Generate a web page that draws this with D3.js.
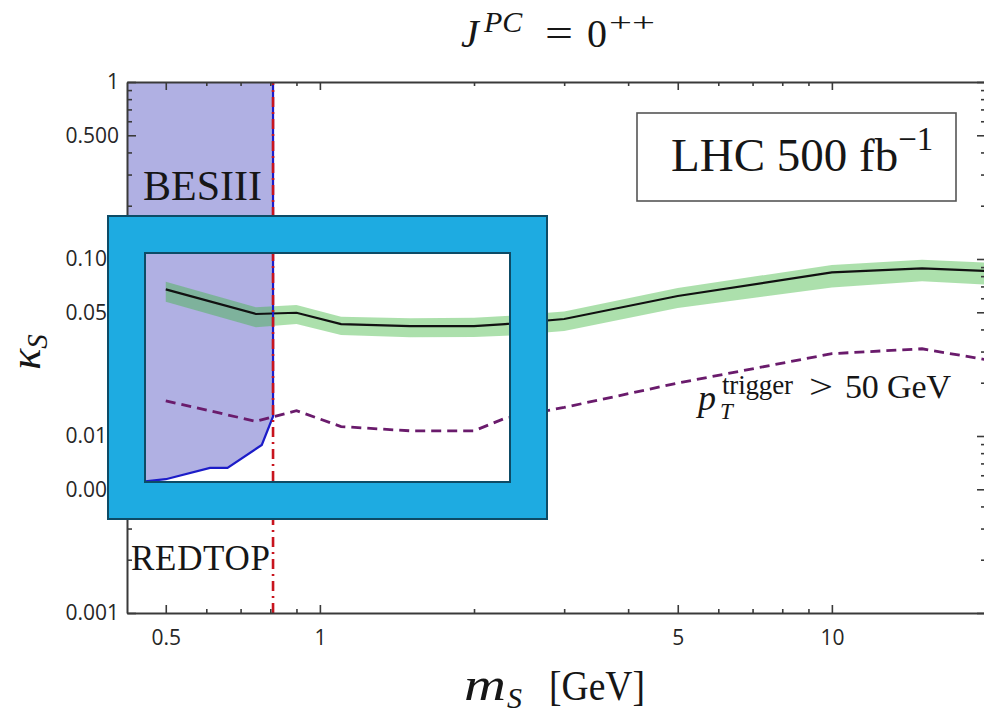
<!DOCTYPE html>
<html>
<head>
<meta charset="utf-8">
<title>kappa_S reach, J^PC = 0++</title>
<script src="https://d3js.org/d3.v7.min.js"></script>
<style>
  body { margin: 0; background: #fff; }
  svg { display: block; }
  .axis path, .axis line { stroke: #3a3a3a; }
  .axis path { stroke-width: 2px; }
  .axis line { stroke-width: 1.6px; }
  .axis text { font-family: "Open Sans", sans-serif; font-size: 21px; fill: #262626; }
  .serif { font-family: "Liberation Serif", "DejaVu Serif", serif; fill: #161616; }
  .it { font-style: italic; }
</style>
</head>
<body>
<svg id="plot" width="984" height="715"></svg>
<script>
// LHC 500 fb^-1 projection, scalar mass points (GeV)
const masses       = [0.5, 0.75, 0.9, 1.1, 1.5, 2, 2.3, 3, 5, 10, 15, 20];
const kappaCentral = [0.0674, 0.0489, 0.0497, 0.0429, 0.0418, 0.0418, 0.0429, 0.0458, 0.0618, 0.0840, 0.0885, 0.0855];
const kappaHigh    = [0.0744, 0.0533, 0.0550, 0.0472, 0.0462, 0.0466, 0.0476, 0.0505, 0.0686, 0.0925, 0.0990, 0.0954];
const kappaLow     = [0.0574, 0.0411, 0.0429, 0.0372, 0.0361, 0.0362, 0.0368, 0.0392, 0.0529, 0.0690, 0.0748, 0.0716];
// pT(trigger) > 50 GeV curve
const kappaTrigger = [0.0158, 0.0121, 0.0139, 0.0113, 0.0107, 0.0107, 0.0126, 0.0145, 0.0199, 0.0292, 0.0311, 0.0270];

// BESIII excluded region, lower edge
const besMass  = [0.42, 0.5, 0.61, 0.66, 0.77, 0.81];
const besKappa = [0.0054, 0.0057, 0.0066, 0.0066, 0.0089, 0.0129];
const redtopMass = 0.81;

// ticks
const xMajor = [0.5, 1, 5, 10];
const xMajorLabels = ["0.5", "1", "5", "10"];
const xMinor = [0.6, 0.7, 0.8, 0.9, 2, 3, 4, 6, 7, 8, 9, 20];
const yMajor = [0.001, 0.005, 0.01, 0.05, 0.1, 0.5, 1];
const yMajorLabels = ["0.001", "0.005", "0.010", "0.050", "0.100", "0.500", "1"];
const yMinor = [0.002, 0.003, 0.004, 0.006, 0.007, 0.008, 0.009,
                0.02, 0.03, 0.04, 0.06, 0.07, 0.08, 0.09,
                0.2, 0.3, 0.4, 0.6, 0.7, 0.8, 0.9];

let svg = d3.select("#plot"),
    margin = {top: 82, right: -2, bottom: 102, left: 127},
    W = +svg.attr("width"),
    H = +svg.attr("height");

let x = d3.scaleLog().domain([0.42, 20]).range([margin.left, W - margin.right]);
let y = d3.scaleLog().domain([0.001, 1]).range([H - margin.bottom, margin.top]);

svg.append("defs").append("clipPath").attr("id", "clip")
  .append("rect")
    .attr("x", x(0.42)).attr("y", y(1))
    .attr("width", x(20) - x(0.42)).attr("height", y(0.001) - y(1));

let plot = svg.append("g").attr("clip-path", "url(#clip)");

// BESIII shaded region
let besPts = besMass.map((m, i) => [m, besKappa[i]]);
plot.append("path")
  .datum(besPts)
  .attr("fill", "#b0b0e3")
  .attr("d", d3.area().x(d => x(d[0])).y0(y(1)).y1(d => y(d[1])));

// green band
let rows = masses.map((m, i) => ({m: m, c: kappaCentral[i], hi: kappaHigh[i], lo: kappaLow[i], t: kappaTrigger[i]}));
plot.append("path")
  .datum(rows)
  .attr("fill", "rgb(58,182,58)")
  .attr("fill-opacity", 0.42)
  .attr("d", d3.area().x(d => x(d.m)).y0(d => y(d.lo)).y1(d => y(d.hi)));

plot.append("path")
  .datum(rows)
  .attr("fill", "none")
  .attr("stroke", "#111")
  .attr("stroke-width", 2.2)
  .attr("d", d3.line().x(d => x(d.m)).y(d => y(d.c)));

plot.append("path")
  .datum(rows)
  .attr("fill", "none")
  .attr("stroke", "#6a1b6c")
  .attr("stroke-width", 2.8)
  .attr("stroke-dasharray", "10 6")
  .attr("d", d3.line().x(d => x(d.m)).y(d => y(d.t)));

// BESIII boundary
plot.append("path")
  .datum(besPts.concat([[redtopMass, 1]]))
  .attr("fill", "none")
  .attr("stroke", "#1c1cc8")
  .attr("stroke-width", 2.2)
  .attr("d", d3.line().x(d => x(d[0])).y(d => y(d[1])));

// REDTOP line
plot.append("path")
  .datum([[redtopMass, 0.001], [redtopMass, 1]])
  .attr("fill", "none")
  .attr("stroke", "#c8141e")
  .attr("stroke-width", 2.6)
  .attr("stroke-dasharray", "10 5 2 5")
  .attr("d", d3.line().x(d => x(d[0])).y(d => y(d[1])));

// axes (frame, ticks inward)
function axisPair(makeAxis, scale, pos, major, minor, labels, majorLen, minorLen, pad) {
  let gMin = svg.append("g").attr("class", "axis").attr("transform", pos)
    .call(makeAxis(scale).tickValues(minor).tickSize(-minorLen).tickSizeOuter(0).tickFormat(""));
  gMin.select(".domain").remove();
  svg.append("g").attr("class", "axis").attr("transform", pos)
    .call(makeAxis(scale).tickValues(major).tickSize(-majorLen).tickSizeOuter(0).tickPadding(pad)
      .tickFormat(labels ? (d => labels[major.indexOf(d)]) : ""));
}
axisPair(d3.axisBottom, x, "translate(0," + y(0.001) + ")", xMajor, xMinor, xMajorLabels, 8, 4, 17);
axisPair(d3.axisTop, x, "translate(0," + y(1) + ")", xMajor, xMinor, null, 8, 4, 3);
axisPair(d3.axisLeft, y, "translate(" + x(0.42) + ",0)", yMajor, yMinor, yMajorLabels, 9, 5, 8);
axisPair(d3.axisRight, y, "translate(" + x(20) + ",0)", yMajor, yMinor, null, 9, 5, 3);

// in-plot labels
svg.append("text").attr("class", "serif")
  .attr("x", 143).attr("y", 200).attr("font-size", 42).text("BESIII");
svg.append("text").attr("class", "serif")
  .attr("x", 131).attr("y", 570).attr("font-size", 35).attr("textLength", 139).text("REDTOP");

svg.append("rect")
  .attr("x", 637).attr("y", 113).attr("width", 319).attr("height", 88)
  .attr("fill", "#fff").attr("stroke", "#555").attr("stroke-width", 1.6);
let lhc = svg.append("text").attr("class", "serif")
  .attr("x", 671).attr("y", 171).attr("font-size", 47);
lhc.append("tspan").text("LHC 500 fb");
lhc.append("tspan").attr("dy", -21).attr("font-size", 33).text("\u22121");

svg.append("text").attr("class", "serif it").attr("x", 698).attr("y", 410).attr("font-size", 36).text("p");
svg.append("text").attr("class", "serif it").attr("x", 720).attr("y", 419).attr("font-size", 23).text("T");
svg.append("text").attr("class", "serif").attr("x", 722).attr("y", 394).attr("font-size", 27)
  .attr("textLength", 71).text("trigger");
svg.append("text").attr("class", "serif").attr("x", 809).attr("y", 398).attr("font-size", 34)
  .attr("textLength", 24).attr("lengthAdjust", "spacingAndGlyphs").text(">");
svg.append("text").attr("class", "serif").attr("x", 845).attr("y", 398).attr("font-size", 34)
  .attr("textLength", 106).text("50 GeV");

// title
svg.append("text").attr("class", "serif it").attr("x", 461).attr("y", 47).attr("font-size", 40).text("J");
svg.append("text").attr("class", "serif it").attr("x", 484).attr("y", 32).attr("font-size", 30).text("PC");
svg.append("text").attr("class", "serif").attr("x", 545).attr("y", 47).attr("font-size", 40)
  .attr("textLength", 28).attr("lengthAdjust", "spacingAndGlyphs").text("=");
svg.append("text").attr("class", "serif").attr("x", 587).attr("y", 47).attr("font-size", 40).text("0");
svg.append("text").attr("class", "serif").attr("x", 609).attr("y", 32).attr("font-size", 28)
  .attr("textLength", 46).attr("lengthAdjust", "spacingAndGlyphs").text("++");

// axis titles
svg.append("text").attr("class", "serif it").attr("x", 464).attr("y", 700).attr("font-size", 46)
  .attr("textLength", 42).attr("lengthAdjust", "spacingAndGlyphs").text("m");
svg.append("text").attr("class", "serif it").attr("x", 507).attr("y", 708).attr("font-size", 30).text("S");
svg.append("text").attr("class", "serif").attr("x", 549).attr("y", 700).attr("font-size", 42)
  .attr("textLength", 96).attr("lengthAdjust", "spacingAndGlyphs").text("[GeV]");

let yl = svg.append("text").attr("class", "serif").attr("font-size", 44)
  .attr("text-anchor", "middle").attr("transform", "translate(40,352) rotate(-90)");
yl.append("tspan").attr("class", "it").text("\u03ba");
yl.append("tspan").attr("class", "it").attr("dy", 7).attr("font-size", 29).text("S");

// blue frame drawn over the chart
svg.append("path")
  .attr("fill", "#1eabe1")
  .attr("fill-rule", "evenodd")
  .attr("stroke", "#0d4b66")
  .attr("stroke-width", 2)
  .attr("d", "M108,216H547V519H108Z M145,253H510V482H145Z");
</script>
</body>
</html>
